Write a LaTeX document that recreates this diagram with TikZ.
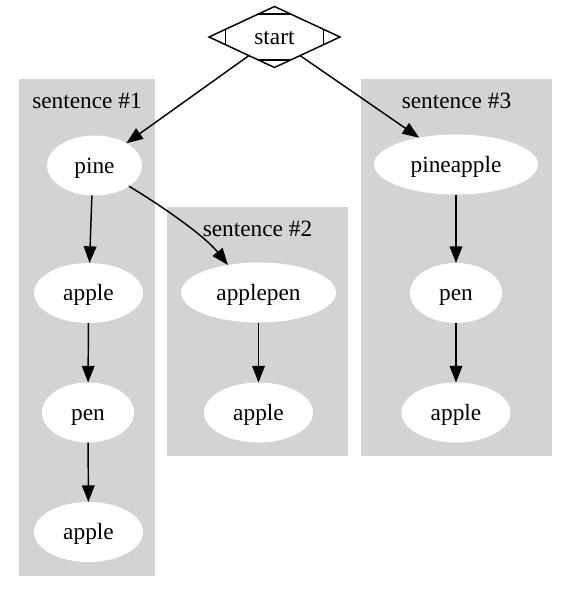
\documentclass[tikz,border=0pt]{standalone}
\usepackage{fontspec}
\setmainfont{Liberation Serif}
\usetikzlibrary{shapes.geometric,arrows.meta,calc}
\definecolor{clugrey}{HTML}{D3D3D3}

\begin{document}
\begin{tikzpicture}[x=0.75pt,y=-0.75pt,
  word/.style={ellipse,fill=white,inner sep=0pt,outer sep=0pt,minimum height=45pt,
    font=\fontsize{17.5}{21}\selectfont,text height=13.5pt,text depth=1.7pt},
  cluname/.style={inner sep=0pt,font=\fontsize{17.5}{21}\selectfont,text height=13.5pt,text depth=1.7pt},
  arr/.style={-{Triangle[length=12.5pt,width=9.5pt]},line width=1.1pt}]
  \useasboundingbox (0,0) rectangle (571,596);

  \fill[clugrey] (19,79) rectangle (155,576);
  \fill[clugrey] (167,207) rectangle (348,456);
  \fill[clugrey] (361,79) rectangle (552,456);

  \path
    (274.5,37) node[diamond,draw,line width=1.1pt,inner sep=0pt,outer sep=0pt,
      minimum width=98.25pt,minimum height=45.75pt,
      font=\fontsize{17.5}{21}\selectfont,text height=13.5pt,text depth=1.7pt] (s) {start}
    (87,101)    node[cluname] (t1) {sentence \#1}
    (257.5,229) node[cluname] (t2) {sentence \#2}
    (456.5,101) node[cluname] (t3) {sentence \#3}
    (94.5,165.5) node[word,minimum width=71.25pt] (pine) {pine}
    (88.5,293)   node[word,minimum width=81.75pt] (ap1) {apple}
    (88,412.5)   node[word,minimum width=69pt] (pen1) {pen}
    (88.5,532)   node[word,minimum width=81.75pt] (ap1b) {apple}
    (258.5,292.5) node[word,minimum width=116.25pt] (apen) {applepen}
    (258.5,412.5) node[word,minimum width=81.75pt] (ap2) {apple}
    (456,164.5)  node[word,minimum width=123pt] (pnap) {pineapple}
    (456,293)    node[word,minimum width=69pt] (pen3) {pen}
    (456,412.5)  node[word,minimum width=81.75pt] (ap3) {apple};

  \draw[line width=1.1pt] ($(s.north)!0.25!(s.west)$) -- ($(s.north)!0.25!(s.east)$);
  \draw[line width=1.1pt] ($(s.south)!0.25!(s.west)$) -- ($(s.south)!0.25!(s.east)$);
  \draw[line width=1.1pt] ($(s.west)!0.25!(s.north)$) -- ($(s.west)!0.25!(s.south)$);
  \draw[line width=1.1pt] ($(s.east)!0.25!(s.north)$) -- ($(s.east)!0.25!(s.south)$);

  \draw[arr] (s.-144) -- (pine.35);
  \draw[arr] (s.-36) -- (pnap.144);
  \draw[arr] (pine.-31) .. controls +(30,18) and +(-24,-30) .. (apen.138);
  \draw[arr] (pine.-95) -- (ap1.88);
  \draw[arr] (ap1) -- (pen1);
  \draw[arr] (pen1) -- (ap1b);
  \draw[arr] (apen) -- (ap2);
  \draw[arr] (pnap) -- (pen3);
  \draw[arr] (pen3) -- (ap3);
\end{tikzpicture}
\end{document}
